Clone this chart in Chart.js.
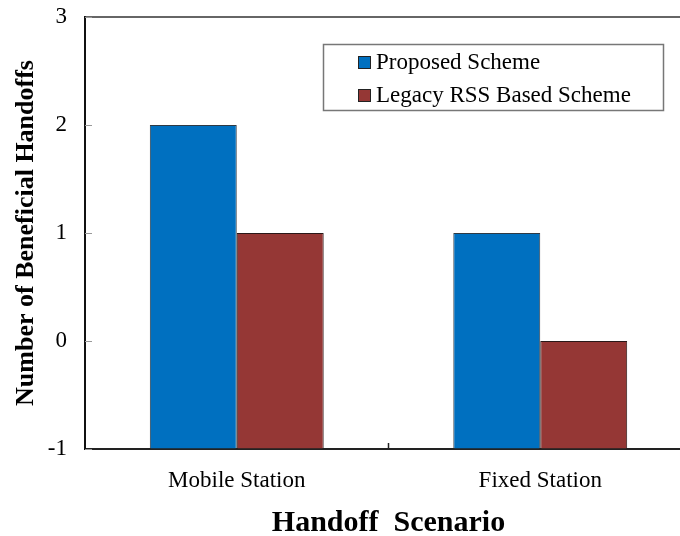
<!DOCTYPE html>
<html>
<head>
<meta charset="utf-8">
<script src="https://cdn.jsdelivr.net/npm/chart.js@4.4.1/dist/chart.umd.min.js"></script>
<style>
    html, body { margin: 0; padding: 0; background: #fff; overflow: hidden; }
    #wrap { width: 700px; height: 536px; }
</style>
</head>
<body>
<div id="wrap"><canvas id="handoffChart"></canvas></div>
<script>
// Datos del gráfico
const escenarios = ['Mobile Station', 'Fixed Station'];
const propuesto = [2, 1];
const legado = [1, 0];
const ticksY = [-1, 0, 1, 2, 3];

const serif = "'Liberation Serif', 'Times New Roman', serif";

// Plugin para el borde superior, las marcas interiores y la leyenda con recuadro
const extras = {
    id: 'extras',
    afterDraw(chart) {
        const ctx = chart.ctx;
        const area = chart.chartArea;
        const y = chart.scales.y;
        const x = chart.scales.x;
        ctx.save();

        // borde superior
        ctx.strokeStyle = '#333';
        ctx.lineWidth = 1.5;
        ctx.beginPath();
        ctx.moveTo(area.left, area.top);
        ctx.lineTo(area.right, area.top);
        ctx.stroke();

        // marcas interiores del eje Y
        ctx.strokeStyle = '#999';
        ctx.lineWidth = 1;
        ticksY.forEach(v => {
            const py = Math.round(y.getPixelForValue(v)) + 0.5;
            ctx.beginPath();
            ctx.moveTo(area.left, py);
            ctx.lineTo(area.left + 7, py);
            ctx.stroke();
        });

        // marca entre categorías en el eje X
        ctx.strokeStyle = '#222';
        ctx.lineWidth = 1.5;
        for (let i = 1; i < escenarios.length; i++) {
            const px = (x.getPixelForValue(i - 1) + x.getPixelForValue(i)) / 2;
            ctx.beginPath();
            ctx.moveTo(px, area.bottom);
            ctx.lineTo(px, area.bottom - 6);
            ctx.stroke();
        }

        // leyenda
        ctx.fillStyle = '#fff';
        ctx.fillRect(323, 44, 340, 66);
        ctx.strokeStyle = '#777';
        ctx.lineWidth = 1.5;
        ctx.strokeRect(323.5, 44.5, 340, 66);
        ctx.font = '23px ' + serif;
        ctx.textBaseline = 'middle';
        ctx.textAlign = 'left';
        chart.data.datasets.forEach((ds, i) => {
            const cy = 62 + i * 33;
            ctx.fillStyle = ds.backgroundColor;
            ctx.fillRect(358, cy - 6, 12, 12);
            ctx.strokeStyle = '#222';
            ctx.lineWidth = 1;
            ctx.strokeRect(358.5, cy - 5.5, 12, 12);
            ctx.fillStyle = '#000';
            ctx.fillText(ds.label, 376, cy + 1);
        });
        ctx.restore();
    }
};

const ctx = document.getElementById('handoffChart').getContext('2d');
new Chart(ctx, {
    type: 'bar',
    data: {
        labels: escenarios,
        datasets: [{
            label: 'Proposed Scheme',
            data: propuesto,
            base: -1,
            backgroundColor: '#0070C0',
            borderColor: '#2f3a44',
            borderWidth: 1
        }, {
            label: 'Legacy RSS Based Scheme',
            data: legado,
            base: -1,
            backgroundColor: '#953735',
            borderColor: '#2a1818',
            borderWidth: 1
        }]
    },
    options: {
        responsive: true,
        maintainAspectRatio: false,
        animation: false,
        layout: { padding: { top: 17, right: 8, left: 0, bottom: 0 } },
        datasets: {
            bar: { categoryPercentage: 0.573, barPercentage: 1.0 }
        },
        plugins: {
            legend: { display: false },
            tooltip: { enabled: false }
        },
        scales: {
            x: {
                grid: { display: true, drawOnChartArea: false, drawTicks: false },
                border: { display: true, color: '#222', width: 2 },
                ticks: { color: '#000', padding: 18, font: { family: serif, size: 23 } },
                title: {
                    display: true,
                    text: 'Handoff  Scenario',
                    color: '#000',
                    padding: { top: 0, bottom: 0 },
                    font: { family: serif, size: 30, weight: 'bold', lineHeight: 0.85 }
                },
                afterFit(scale) {
                    scale.height = 87;
                    scale.paddingLeft = 0;
                    scale.paddingRight = 0;
                }
            },
            y: {
                min: -1,
                max: 3,
                afterBuildTicks(scale) { scale.ticks = ticksY.map(v => ({ value: v })); },
                grid: { display: true, drawOnChartArea: false, drawTicks: false },
                border: { display: true, color: '#111', width: 2 },
                ticks: { color: '#000', padding: 18, font: { family: serif, size: 23 } },
                title: {
                    display: true,
                    text: 'Number of Beneficial Handoffs',
                    color: '#000',
                    padding: { top: 11, bottom: 0 },
                    font: { family: serif, size: 26, weight: 'bold', lineHeight: 1.2 }
                },
                afterFit(scale) {
                    scale.width = 85;
                    scale.paddingTop = 0;
                    scale.paddingBottom = 0;
                }
            }
        }
    },
    plugins: [extras]
});
</script>
</body>
</html>
